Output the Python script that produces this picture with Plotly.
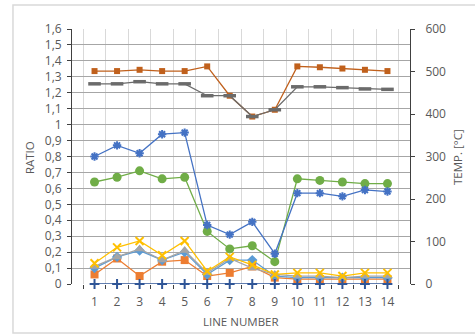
import plotly.graph_objects as go

# Line numbers on the category axis
line_numbers = ["1", "2", "3", "4", "5", "6", "7", "8", "9", "10", "11", "12", "13", "14"]

# Ratio series (left axis)
ratio_plus = [0, 0, 0, 0, 0, 0, 0, 0, 0, 0, 0, 0, 0, 0]
ratio_square = [0.06, 0.16, 0.05, 0.14, 0.15, 0.05, 0.07, 0.11, 0.04, 0.03, 0.03, 0.03, 0.03, 0.03]
ratio_triangle = [0.11, 0.17, 0.22, 0.15, 0.21, 0.07, 0.16, 0.10, 0.06, 0.05, 0.05, 0.04, 0.05, 0.05]
ratio_diamond = [0.10, 0.17, 0.21, 0.15, 0.20, 0.06, 0.15, 0.15, 0.05, 0.04, 0.04, 0.04, 0.04, 0.04]
ratio_x = [0.13, 0.23, 0.27, 0.18, 0.27, 0.08, 0.17, 0.12, 0.06, 0.07, 0.07, 0.05, 0.07, 0.07]
ratio_circle = [0.64, 0.67, 0.71, 0.66, 0.67, 0.33, 0.22, 0.24, 0.14, 0.66, 0.65, 0.64, 0.63, 0.63]
ratio_star = [0.80, 0.87, 0.82, 0.94, 0.95, 0.37, 0.31, 0.39, 0.19, 0.57, 0.57, 0.55, 0.59, 0.58]

# Temperature series (right axis, °C)
temp_upper = [501, 501, 504, 501, 501, 512, 443, 394, 410, 512, 510, 507, 504, 501]
temp_lower = [471, 471, 476, 471, 471, 443, 443, 394, 410, 464, 464, 462, 459, 458]

TXT = "#595959"
FONT = "Open Sans"

fig = go.Figure()


def add_series(y, color, symbol, size, yaxis="y", open_line=None, lw=1.3):
    marker = dict(symbol=symbol, size=size, color=color)
    if open_line is not None:
        marker["line"] = dict(color=color, width=open_line)
    fig.add_trace(go.Scatter(
        x=line_numbers, y=y, mode="lines+markers", yaxis=yaxis,
        line=dict(color=color, width=lw), marker=marker,
        showlegend=False, hoverinfo="skip", cliponaxis=False,
    ))


add_series(ratio_square, "#ED7D31", "square", 8)
add_series(ratio_diamond, "#5B9BD5", "diamond", 8)
add_series(ratio_triangle, "#A5A5A5", "triangle-up", 9)
add_series(ratio_x, "#FFC000", "x-thin-open", 8, open_line=2)
add_series(ratio_circle, "#70AD47", "circle", 9)
add_series(ratio_star, "#4472C4", "asterisk-open", 7, open_line=2)
add_series(ratio_plus, "#2F5597", "cross-thin-open", 7, open_line=2, lw=1.5)
add_series(temp_upper, "#C0601C", "square", 6, yaxis="y2")
add_series(temp_lower, "#6B6B6B", "line-ew-open", 9, yaxis="y2", open_line=3.5)

title_font = dict(size=11.5, color=TXT)

fig.update_layout(
    width=475, height=336,
    margin=dict(l=72, r=65, t=29, b=52),
    paper_bgcolor="white", plot_bgcolor="white",
    separators=",.",
    font=dict(family=FONT, size=11, color=TXT),
    xaxis=dict(
        type="category", tickson="boundaries",
        showgrid=True, gridcolor="#D9D9D9", gridwidth=1,
        ticks="outside", ticklen=4, tickcolor="#404040",
        showline=False, tickfont=dict(size=12, color=TXT),
        tickangle=0, ticklabelstandoff=9,
        zeroline=False,
    ),
    yaxis=dict(
        range=[0, 1.6], dtick=0.1, showgrid=True, gridcolor="#A6A6A6",
        gridwidth=1, ticks="outside", ticklen=4, tickcolor="#404040",
        showline=True, linecolor="#404040", linewidth=1,
        zeroline=False, tickfont=dict(size=12, color=TXT),
        ticklabelstandoff=3,
    ),
    yaxis2=dict(
        range=[0, 600], dtick=100, overlaying="y", side="right",
        showgrid=False, ticks="outside", ticklen=4, tickcolor="#404040",
        showline=True, linecolor="#404040", linewidth=1,
        zeroline=False, tickfont=dict(size=12, color=TXT),
        ticklabelstandoff=8,
    ),
    annotations=[
        dict(text="RATIO", x=-0.127, y=0.494, xref="paper", yref="paper",
             xanchor="center", yanchor="middle",
             textangle=-90, showarrow=False, font=title_font),
        dict(text="TEMP. [°C]", x=1.139, y=0.498, xref="paper", yref="paper",
             xanchor="center", yanchor="middle",
             textangle=-90, showarrow=False, font=title_font),
        dict(text="LINE NUMBER", x=0.5, y=-0.149, xref="paper", yref="paper",
             xanchor="center", yanchor="middle",
             showarrow=False, font=title_font),
    ],
    shapes=[
        dict(type="rect", xref="paper", yref="paper",
             x0=-0.1746, x1=1.2, y0=-0.192, y1=1.094,
             line=dict(color="#D9D9D9", width=1.5), layer="below"),
    ],
)

fig.write_html("out.html")
